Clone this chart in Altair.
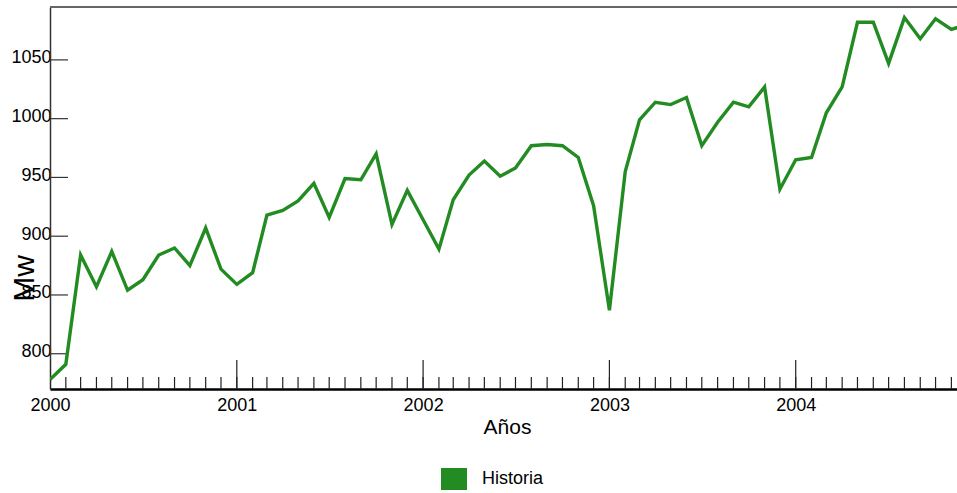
import altair as alt
import pandas as pd

# Monthly demand history, Jan 2000 - Dec 2004
months = [f"{y}-{m:02d}-01T00:00:00" for y in range(2000, 2005) for m in range(1, 13)]
mw = [
    778, 791, 884, 857, 887, 854, 863, 884, 890, 875, 907, 872,
    859, 869, 918, 922, 930, 945, 916, 949, 948, 970, 910, 939,
    914, 889, 931, 952, 964, 951, 958, 977, 978, 977, 967, 926,
    837, 955, 999, 1014, 1012, 1018, 977, 997, 1014, 1010, 1027, 940,
    965, 967, 1005, 1027, 1082, 1082, 1047, 1086, 1068, 1085, 1076, 1080,
]
series_name = "Historia"
years = [2000, 2001, 2002, 2003, 2004]
year_starts = [f"{y}-01-01T00:00:00" for y in years]
y_ticks = [800, 850, 900, 950, 1000, 1050]

W, H = 907, 382
FONT = "Liberation Sans"
GREEN = "#228B22"

df = pd.DataFrame({"mes": months, "mw": mw, "serie": series_name})

x_scale = alt.Scale(
    domain=[alt.DateTime(year=2000, month=1, date=1),
            alt.DateTime(year=2004, month=11, date=12)],
    nice=False,
)
y_scale = alt.Scale(domain=[770, 1095], zero=False, nice=False)

x_axis = alt.Axis(
    title="Años",
    values=[alt.DateTime(year=y, month=1, date=1) for y in years],
    format="%Y",
    ticks=False,
    grid=False,
    labelPadding=21,
    labelBaseline="alphabetic",
    labelAlign="center",
    labelFontSize=18,
    domainColor="#000",
    domainWidth=2.5,
    titleFontSize=21,
    titleFontWeight="normal",
    titleX=457,
    titleY=44,
    titleBaseline="alphabetic",
    titleAlign="center",
)
y_axis = alt.Axis(
    title="Mw",
    values=y_ticks,
    format="d",
    ticks=False,
    grid=False,
    labelPadding=-1,
    labelBaseline="alphabetic",
    labelOffset=3,
    labelFontSize=18,
    domainColor="#333",
    domainWidth=1.5,
    titleFontSize=30,
    titleFontWeight="normal",
    titleAngle=270,
    titleX=-17,
    titleY=271,
    titleBaseline="alphabetic",
    titleAlign="center",
)

line = alt.Chart(df).mark_line(strokeWidth=3.4, clip=True).encode(
    x=alt.X("mes:T", scale=x_scale, axis=x_axis),
    y=alt.Y("mw:Q", scale=y_scale, axis=y_axis),
    color=alt.Color(
        "serie:N",
        scale=alt.Scale(domain=[series_name], range=[GREEN]),
        legend=alt.Legend(
            title=None,
            orient="none",
            legendX=391,
            legendY=459,
            padding=0,
            symbolType="M-1,-0.846H1V0.846H-1Z",
            symbolSize=676,
            symbolFillColor=GREEN,
            symbolStrokeWidth=0,
            symbolOpacity=1,
            labelFontSize=18,
            labelOffset=15,
            labelColor="#000",
        ),
    ),
)

# monthly minor ticks and yearly major ticks, drawn inward from the x axis
minor = alt.Chart(pd.DataFrame({"mes": months})).mark_rule(
    color="#222", strokeWidth=1.2, clip=True
).encode(
    x=alt.X("mes:T", scale=x_scale, axis=x_axis),
    y=alt.value(H - 12),
    y2=alt.value(H),
)
major = alt.Chart(pd.DataFrame({"mes": year_starts})).mark_rule(
    color="#222", strokeWidth=1.2, clip=True
).encode(
    x=alt.X("mes:T", scale=x_scale, axis=x_axis),
    y=alt.value(H - 29),
    y2=alt.value(H),
)
# y ticks pointing into the plot
yticks = alt.Chart(pd.DataFrame({"mw": y_ticks})).mark_rule(
    color="#333", strokeWidth=1.2
).encode(
    y=alt.Y("mw:Q", scale=y_scale, axis=y_axis),
    x=alt.value(0),
    x2=alt.value(18),
)
# top frame line
top = alt.Chart(pd.DataFrame({"b": [0]})).mark_rule(
    color="#666", strokeWidth=2
).encode(y=alt.value(0))

chart = alt.layer(minor, major, yticks, top, line).properties(
    width=W,
    height=H,
    autosize=alt.AutoSizeParams(type="none"),
    padding={"left": 50, "top": 7, "right": 0, "bottom": 104},
).configure_view(stroke=None).configure(
    font=FONT,
).configure_axis(
    labelFont=FONT,
    titleFont=FONT,
    labelColor="#000",
    titleColor="#000",
).configure_legend(
    labelFont=FONT,
)

chart.save("out.html", embed_options={"renderer": "svg", "actions": False})
